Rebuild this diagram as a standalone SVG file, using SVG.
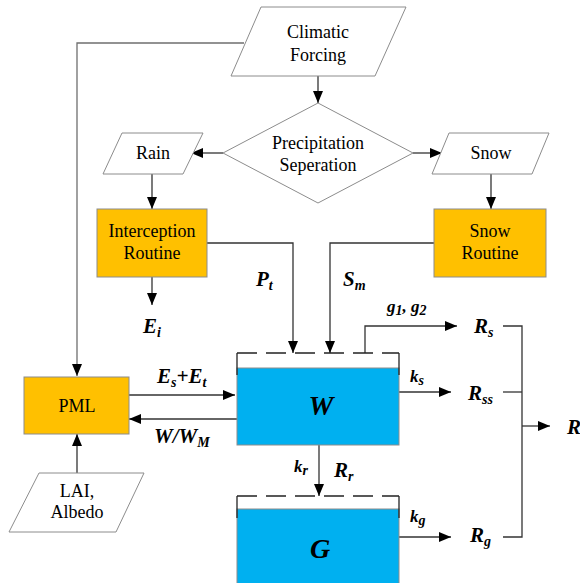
<svg xmlns="http://www.w3.org/2000/svg" width="580" height="583" viewBox="0 0 580 583">
<defs>
<marker id="arr" markerUnits="userSpaceOnUse" markerWidth="12" markerHeight="10" refX="12" refY="5" orient="auto">
<path d="M0,0 L12,5 L0,10 z" fill="#000"/>
</marker>
<style>
text{font-family:'Liberation Serif','Times New Roman',Times,serif}
.io{fill:#fff;stroke:#8c8c8c;stroke-width:1}
.proc{fill:#FFC000;stroke:#8c8c8c;stroke-width:1}
.water{fill:#00B0F0;stroke:#8c8c8c;stroke-width:1}
.wall{fill:none;stroke:#222;stroke-width:1.3}
.dash{fill:none;stroke:#222;stroke-width:1.3;stroke-dasharray:20,9}
.t{font-size:18px;fill:#000;text-anchor:middle}
.v{font-weight:bold;font-style:italic;font-size:21px;fill:#000}
.s{font-size:14px}
.big{font-weight:bold;font-style:italic;font-size:28px;fill:#000;text-anchor:middle}
.c{fill:none;stroke:#333;stroke-width:1.3}
.cg{fill:none;stroke:#6f6f6f;stroke-width:1.3}
</style>
</defs>
<rect width="580" height="583" fill="#fff"/>

<g id="connectors">
<polyline class="cg" points="244,43 77,43 77,376" marker-end="url(#arr)"/>
<line class="c" x1="318" y1="76" x2="318" y2="103" marker-end="url(#arr)"/>
<line class="c" x1="223" y1="153" x2="191" y2="153" marker-end="url(#arr)"/>
<line class="c" x1="413" y1="153" x2="442" y2="153" marker-end="url(#arr)"/>
<line class="c" x1="152" y1="174" x2="152" y2="209" marker-end="url(#arr)"/>
<line class="c" x1="491" y1="174" x2="491" y2="209" marker-end="url(#arr)"/>
<line class="c" x1="152" y1="277" x2="152" y2="305" marker-end="url(#arr)"/>
<polyline class="c" points="207,243 293,243 293,353" marker-end="url(#arr)"/>
<polyline class="c" points="434,243 330,243 330,353" marker-end="url(#arr)"/>
<polyline class="c" points="365,353 365,326 457,326" marker-end="url(#arr)"/>
<line class="c" x1="399" y1="392" x2="451" y2="392" marker-end="url(#arr)"/>
<line class="c" x1="129" y1="395" x2="235" y2="395" marker-end="url(#arr)"/>
<line class="c" x1="237" y1="419" x2="129" y2="419" marker-end="url(#arr)"/>
<line class="c" x1="77" y1="473" x2="77" y2="434" marker-end="url(#arr)"/>
<line class="c" x1="319" y1="445" x2="319" y2="496" marker-end="url(#arr)"/>
<line class="c" x1="399" y1="537" x2="451" y2="537" marker-end="url(#arr)"/>
<polyline class="c" points="503,326 522,326 522,537 503,537"/>
<line class="c" x1="503" y1="392" x2="522" y2="392"/>
<line class="c" x1="522" y1="426" x2="550" y2="426" marker-end="url(#arr)"/>
</g>

<g id="climatic">
<polygon class="io" points="261,7 406,7 375,76 231,76"/>
<text class="t" x="318" y="38" font-family="Liberation Serif">Climatic</text>
<text class="t" x="318" y="61" font-family="Liberation Serif">Forcing</text>
</g>

<g id="precip">
<polygon class="io" points="318,103 413,153 318,203 223,153"/>
<text class="t" x="318" y="149" font-family="Liberation Serif">Precipitation</text>
<text class="t" x="318" y="171" font-family="Liberation Serif">Seperation</text>
</g>

<g id="rain">
<polygon class="io" points="122,133 203,133 183,174 103,174"/>
<text class="t" x="153" y="159" font-family="Liberation Serif">Rain</text>
</g>

<g id="snow">
<polygon class="io" points="449,133 549,133 532,174 432,174"/>
<text class="t" x="491" y="159" font-family="Liberation Serif">Snow</text>
</g>

<g id="interception">
<rect class="proc" x="97" y="209" width="110" height="68"/>
<text class="t" x="152" y="237" font-family="Liberation Serif">Interception</text>
<text class="t" x="152" y="259" font-family="Liberation Serif">Routine</text>
</g>

<g id="snowroutine">
<rect class="proc" x="434" y="209" width="112" height="68"/>
<text class="t" x="490" y="237" font-family="Liberation Serif">Snow</text>
<text class="t" x="490" y="259" font-family="Liberation Serif">Routine</text>
</g>

<g id="pml">
<rect class="proc" x="24" y="377" width="105" height="57"/>
<text class="t" x="77" y="412" font-family="Liberation Serif">PML</text>
</g>

<g id="lai">
<polygon class="io" points="39,473 144,473 116,532 9,532"/>
<text class="t" x="77" y="497" font-family="Liberation Serif">LAI,</text>
<text class="t" x="77" y="518" font-family="Liberation Serif">Albedo</text>
</g>

<g id="W">
<rect class="water" x="237" y="368" width="162" height="77"/>
<line class="dash" x1="237" y1="353" x2="399" y2="353"/>
<line class="wall" x1="237" y1="353" x2="237" y2="375"/>
<line class="wall" x1="399" y1="353" x2="399" y2="375"/>
<text class="big" x="321" y="415" font-family="Liberation Serif">W</text>
</g>

<g id="G">
<rect class="water" x="237" y="509" width="162" height="80"/>
<line class="dash" x1="237" y1="496" x2="399" y2="496"/>
<line class="wall" x1="237" y1="496" x2="237" y2="518"/>
<line class="wall" x1="399" y1="496" x2="399" y2="518"/>
<text class="big" x="320" y="558" font-family="Liberation Serif">G</text>
</g>

<g id="labels" font-family="Liberation Serif">
<text class="v" x="256" y="286">P<tspan class="s" dy="4">t</tspan></text>
<text class="v" x="343" y="286">S<tspan class="s" dy="4">m</tspan></text>
<text class="v" x="143" y="333">E<tspan class="s" dy="4">i</tspan></text>
<text class="v" x="387" y="312" style="font-size:17px">g<tspan class="s" dy="3">1</tspan><tspan dy="-3">, g</tspan><tspan class="s" dy="3">2</tspan></text>
<text class="v" x="474" y="333">R<tspan class="s" dy="4">s</tspan></text>
<text class="v" x="468" y="400">R<tspan class="s" dy="4">ss</tspan></text>
<text class="v" x="410" y="382" style="font-size:17px">k<tspan class="s" dy="3">s</tspan></text>
<text class="v" x="567" y="434">R</text>
<text class="v" x="157" y="383">E<tspan class="s" dy="4">s</tspan><tspan dy="-4">+E</tspan><tspan class="s" dy="4">t</tspan></text>
<text class="v" x="154" y="443">W/W<tspan class="s" dy="4">M</tspan></text>
<text class="v" x="294" y="472" style="font-size:17px">k<tspan class="s" dy="3">r</tspan></text>
<text class="v" x="334" y="477">R<tspan class="s" dy="4">r</tspan></text>
<text class="v" x="410" y="522" style="font-size:17px">k<tspan class="s" dy="3">g</tspan></text>
<text class="v" x="470" y="542">R<tspan class="s" dy="4">g</tspan></text>
</g>
</svg>
